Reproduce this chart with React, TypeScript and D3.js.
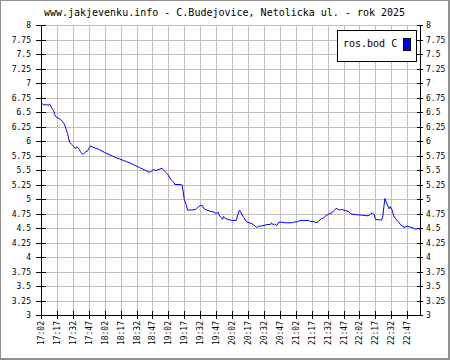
import React from "react";
import * as d3 from "d3";

const title = "www.jakjevenku.info - C.Budejovice, Netolicka ul. - rok 2025";
const seriesName = "ros.bod C";
const startTime = "17:02";
const endMinute = 357;
// minutes after 17:02
const tMin = [0, 2, 3, 5, 7, 8, 9, 10, 12, 13, 15, 17, 19, 20, 22, 24, 25, 26, 27, 29, 30, 32, 33, 34, 36, 37, 39, 40, 42, 44, 45, 47, 48, 51, 54, 60, 65, 71, 74, 84, 93, 100, 102, 104, 106, 108, 111, 114, 115, 117, 120, 122, 125, 126, 130, 131, 133, 134, 135, 137, 138, 142, 146, 148, 150, 152, 153, 156, 159, 162, 165, 167, 168, 170, 171, 172, 174, 176, 178, 180, 184, 185, 187, 188, 189, 191, 192, 194, 196, 198, 200, 202, 203, 205, 209, 213, 216, 217, 219, 220, 222, 224, 227, 230, 236, 238, 242, 244, 247, 252, 254, 257, 259, 261, 264, 266, 268, 271, 274, 276, 278, 281, 283, 287, 290, 292, 297, 303, 307, 309, 312, 314, 315, 318, 321, 322, 323, 324, 325, 327, 328, 329, 331, 332, 334, 337, 339, 342, 345, 347, 351, 352, 356, 357];
const values = [6.66, 6.63, 6.62, 6.63, 6.61, 6.64, 6.61, 6.57, 6.52, 6.45, 6.4, 6.39, 6.36, 6.34, 6.29, 6.19, 6.13, 6.05, 5.98, 5.94, 5.92, 5.88, 5.87, 5.9, 5.86, 5.82, 5.77, 5.78, 5.81, 5.83, 5.87, 5.92, 5.9, 5.88, 5.86, 5.8, 5.76, 5.71, 5.69, 5.62, 5.54, 5.48, 5.46, 5.48, 5.51, 5.49, 5.51, 5.53, 5.51, 5.47, 5.41, 5.34, 5.29, 5.25, 5.25, 5.25, 5.24, 5.12, 4.99, 4.89, 4.81, 4.81, 4.82, 4.86, 4.89, 4.89, 4.84, 4.81, 4.79, 4.78, 4.75, 4.77, 4.71, 4.68, 4.65, 4.7, 4.66, 4.65, 4.64, 4.63, 4.63, 4.71, 4.81, 4.78, 4.74, 4.68, 4.65, 4.6, 4.59, 4.58, 4.56, 4.53, 4.51, 4.53, 4.54, 4.56, 4.56, 4.59, 4.55, 4.57, 4.54, 4.6, 4.6, 4.59, 4.59, 4.6, 4.61, 4.63, 4.63, 4.63, 4.61, 4.61, 4.59, 4.61, 4.66, 4.67, 4.71, 4.74, 4.76, 4.8, 4.84, 4.81, 4.82, 4.8, 4.78, 4.74, 4.73, 4.72, 4.71, 4.72, 4.76, 4.73, 4.65, 4.64, 4.64, 4.7, 4.87, 5.01, 4.95, 4.87, 4.83, 4.87, 4.8, 4.72, 4.66, 4.6, 4.55, 4.51, 4.53, 4.52, 4.5, 4.48, 4.49, 4.48];
const xTickLabels = ["17:02", "17:17", "17:32", "17:47", "18:02", "18:17", "18:32", "18:47", "19:02", "19:17", "19:32", "19:47", "20:02", "20:17", "20:32", "20:47", "21:02", "21:17", "21:32", "21:47", "22:02", "22:17", "22:32", "22:47"];
const yTicks = [3, 3.25, 3.5, 3.75, 4, 4.25, 4.5, 4.75, 5, 5.25, 5.5, 5.75, 6, 6.25, 6.5, 6.75, 7, 7.25, 7.5, 7.75, 8];

const W = 450, H = 360;
const L = 41, R = 420, T = 25, B = 315;
const mono = "'DejaVu Sans Mono', monospace";

function toMin(s: string) {
  const [h, m] = s.split(":").map(Number);
  return h * 60 + m;
}

export default function App() {
  const x = d3.scaleLinear().domain([0, endMinute]).range([L, R]);
  const y = d3.scaleLinear().domain([3, 8]).range([B, T]);
  const start = toMin(startTime);
  const xt = xTickLabels.map((s) => ({ s, m: toMin(s) - start }));
  const line = d3.line<number>().x((_, i) => x(tMin[i])).y((v) => y(v));
  const fmt = (v: number) => d3.format("")(v);
  return (
    <svg width={W} height={H} style={{ position: "absolute", left: 0, top: 0 }} shapeRendering="crispEdges">
      <rect x={0} y={0} width={W} height={H} fill="#fff" />
      <rect x={0.5} y={0.5} width={W - 2} height={H - 2} fill="none" stroke="#909090" />
      <line x1={W - 0.5} x2={W - 0.5} y1={0} y2={H} stroke="#909090" />
      <line x1={0} x2={W} y1={H - 0.5} y2={H - 0.5} stroke="#909090" />
      <text x={224.5} y={16} textAnchor="middle" fontFamily={mono} fontSize={10} fill="#000">{title}</text>
      {yTicks.filter((v) => v > 3).map((v) => (
        <line key={"gy" + v} x1={L} x2={R} y1={Math.round(y(v)) + 0.5} y2={Math.round(y(v)) + 0.5} stroke="#c0c0c0" />
      ))}
      {xt.filter((d) => d.m > 0).map((d) => (
        <line key={"gx" + d.s} x1={Math.round(x(d.m)) + 0.5} x2={Math.round(x(d.m)) + 0.5} y1={T} y2={B} stroke="#c0c0c0" />
      ))}
      <line x1={L + 0.5} x2={L + 0.5} y1={T} y2={B} stroke="#000" />
      <line x1={R + 0.5} x2={R + 0.5} y1={T} y2={B + 1} stroke="#000" />
      <line x1={L} x2={R} y1={B + 0.5} y2={B + 0.5} stroke="#000" />
      {yTicks.map((v) => {
        const yy = Math.round(y(v)) + 0.5;
        return (
          <g key={"yt" + v}>
            <line x1={36} x2={46} y1={yy} y2={yy} stroke="#000" />
            <line x1={417} x2={423} y1={yy} y2={yy} stroke="#000" />
            <text x={31} y={yy} dy="0.35em" textAnchor="end" fontFamily={mono} fontSize={8} fill="#000">{fmt(v)}</text>
            <text x={426} y={yy} dy="0.35em" textAnchor="start" fontFamily={mono} fontSize={8} fill="#000">{fmt(v)}</text>
          </g>
        );
      })}
      {xt.map((d) => {
        const xx = Math.round(x(d.m)) + 0.5;
        return (
          <g key={"xt" + d.s}>
            <line x1={xx} x2={xx} y1={311} y2={319} stroke="#000" />
            <text transform={`translate(${xx},321) rotate(-90)`} dy="0.35em" textAnchor="end" fontFamily={mono} fontSize={8} fill="#000">{d.s}</text>
          </g>
        );
      })}
      <path d={line(values) || ""} fill="none" stroke="#0000ff" strokeWidth={1} shapeRendering="auto" />
      <rect x={337.5} y={30.5} width={79} height={31} fill="#fff" stroke="#000" />
      <text x={343} y={47} dy="0" fontFamily={mono} fontSize={10} fill="#000">{seriesName}</text>
      <rect x={403.5} y={38.5} width={7} height={12} fill="#0000ff" stroke="#000" />
    </svg>
  );
}
